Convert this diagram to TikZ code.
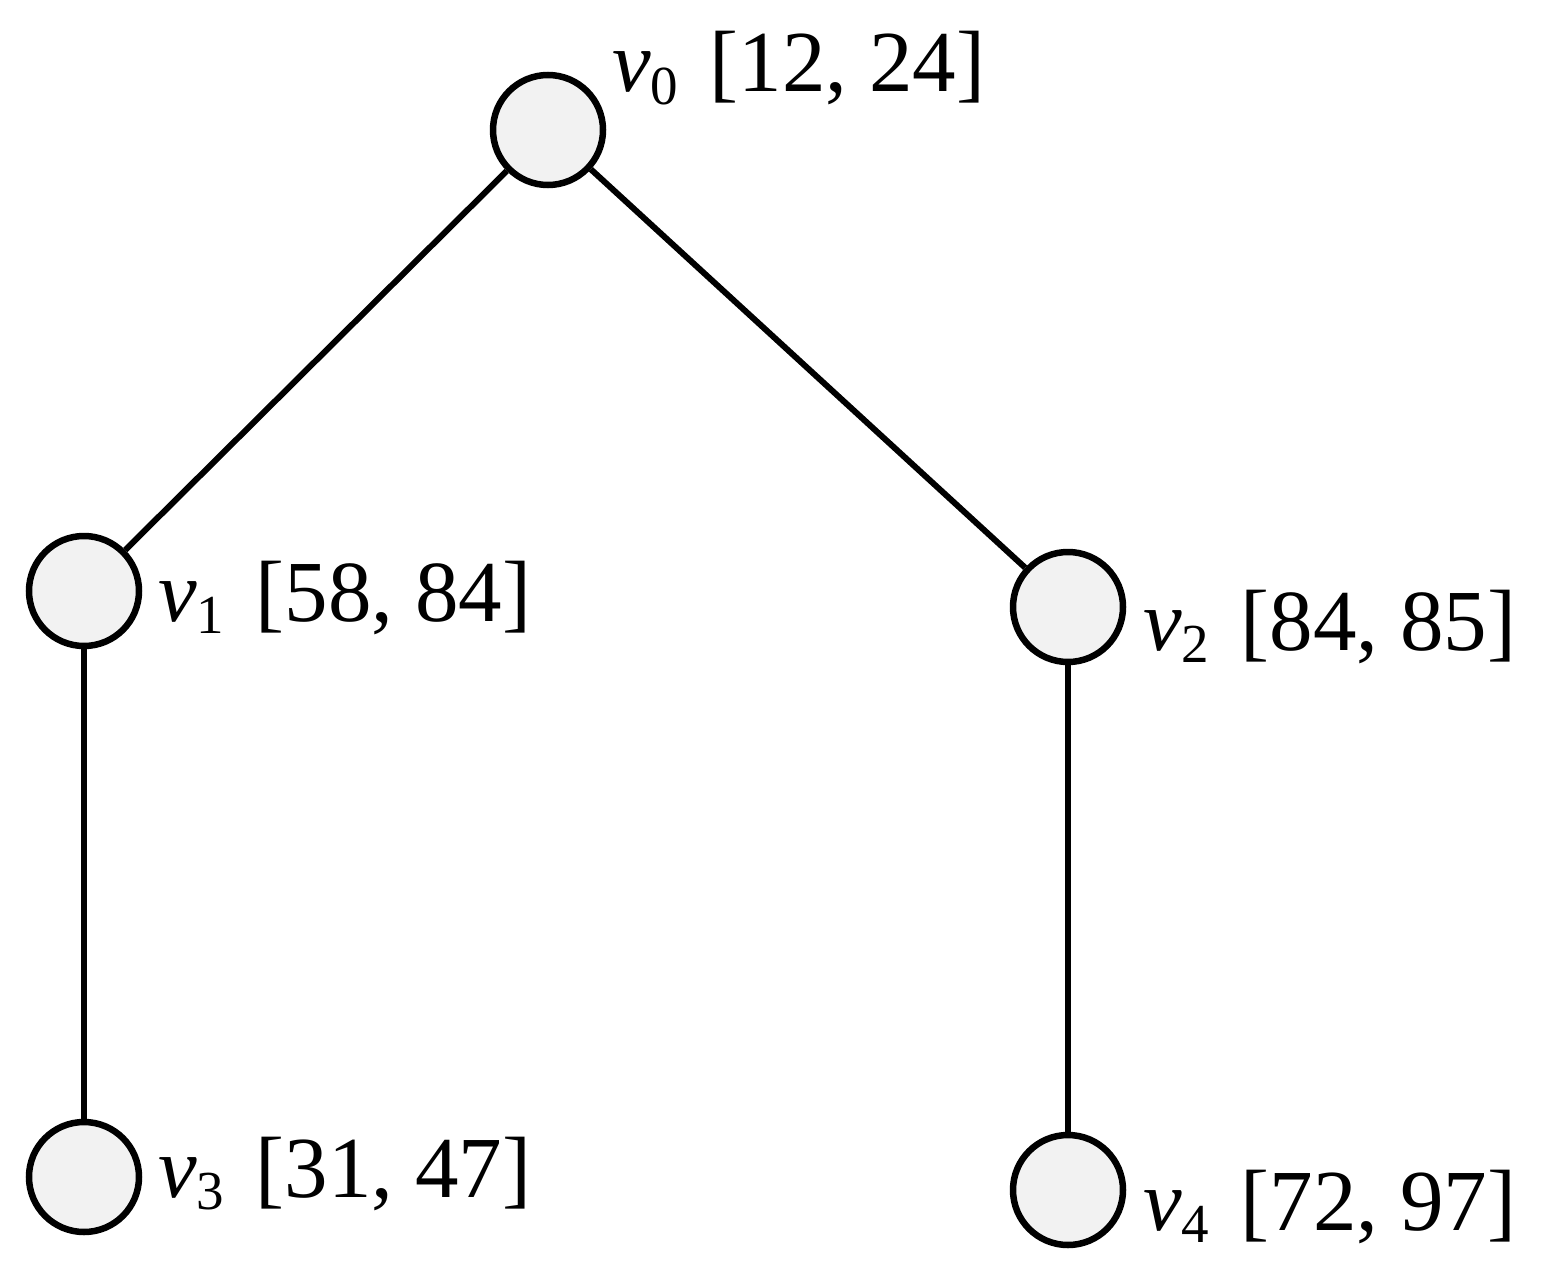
\documentclass[tikz,border=0pt]{standalone}
\usepackage{fontspec}
\setmainfont{Liberation Serif}
\definecolor{nodefill}{HTML}{F2F2F2}
\newcommand{\vlab}[2]{{\itshape v}\raisebox{-0.14em}{\fontsize{55}{60}\selectfont #1}\hspace{0.36em}#2}
\begin{document}
\begin{tikzpicture}[x=1pt,y=-1pt,
  vert/.style={circle,draw=black,fill=nodefill,line width=6.5pt,minimum size=110pt,inner sep=0pt},
  lab/.style={anchor=base west,inner sep=0pt,font=\fontsize{87}{95}\selectfont},
  edge/.style={line width=6pt}]
\useasboundingbox (0,0) rectangle (1552,1268);
\node[vert] (v0) at (548,130) {};
\node[vert] (v1) at (84,591) {};
\node[vert] (v2) at (1068,607) {};
\node[vert] (v3) at (84,1177) {};
\node[vert] (v4) at (1068,1190) {};
\draw[edge] (v0) -- (v1);
\draw[edge] (v0) -- (v2);
\draw[edge] (v1) -- (v3);
\draw[edge] (v2) -- (v4);
\node[lab] (l0) at (612,92) {\vlab{0}{[12, 24]}};
\node[lab] (l1) at (158,621) {\vlab{1}{[58, 84]}};
\node[lab] (l2) at (1143,650) {\vlab{2}{[84, 85]}};
\node[lab] (l3) at (158,1197) {\vlab{3}{[31, 47]}};
\node[lab] (l4) at (1143,1230) {\vlab{4}{[72, 97]}};
\end{tikzpicture}
\end{document}
